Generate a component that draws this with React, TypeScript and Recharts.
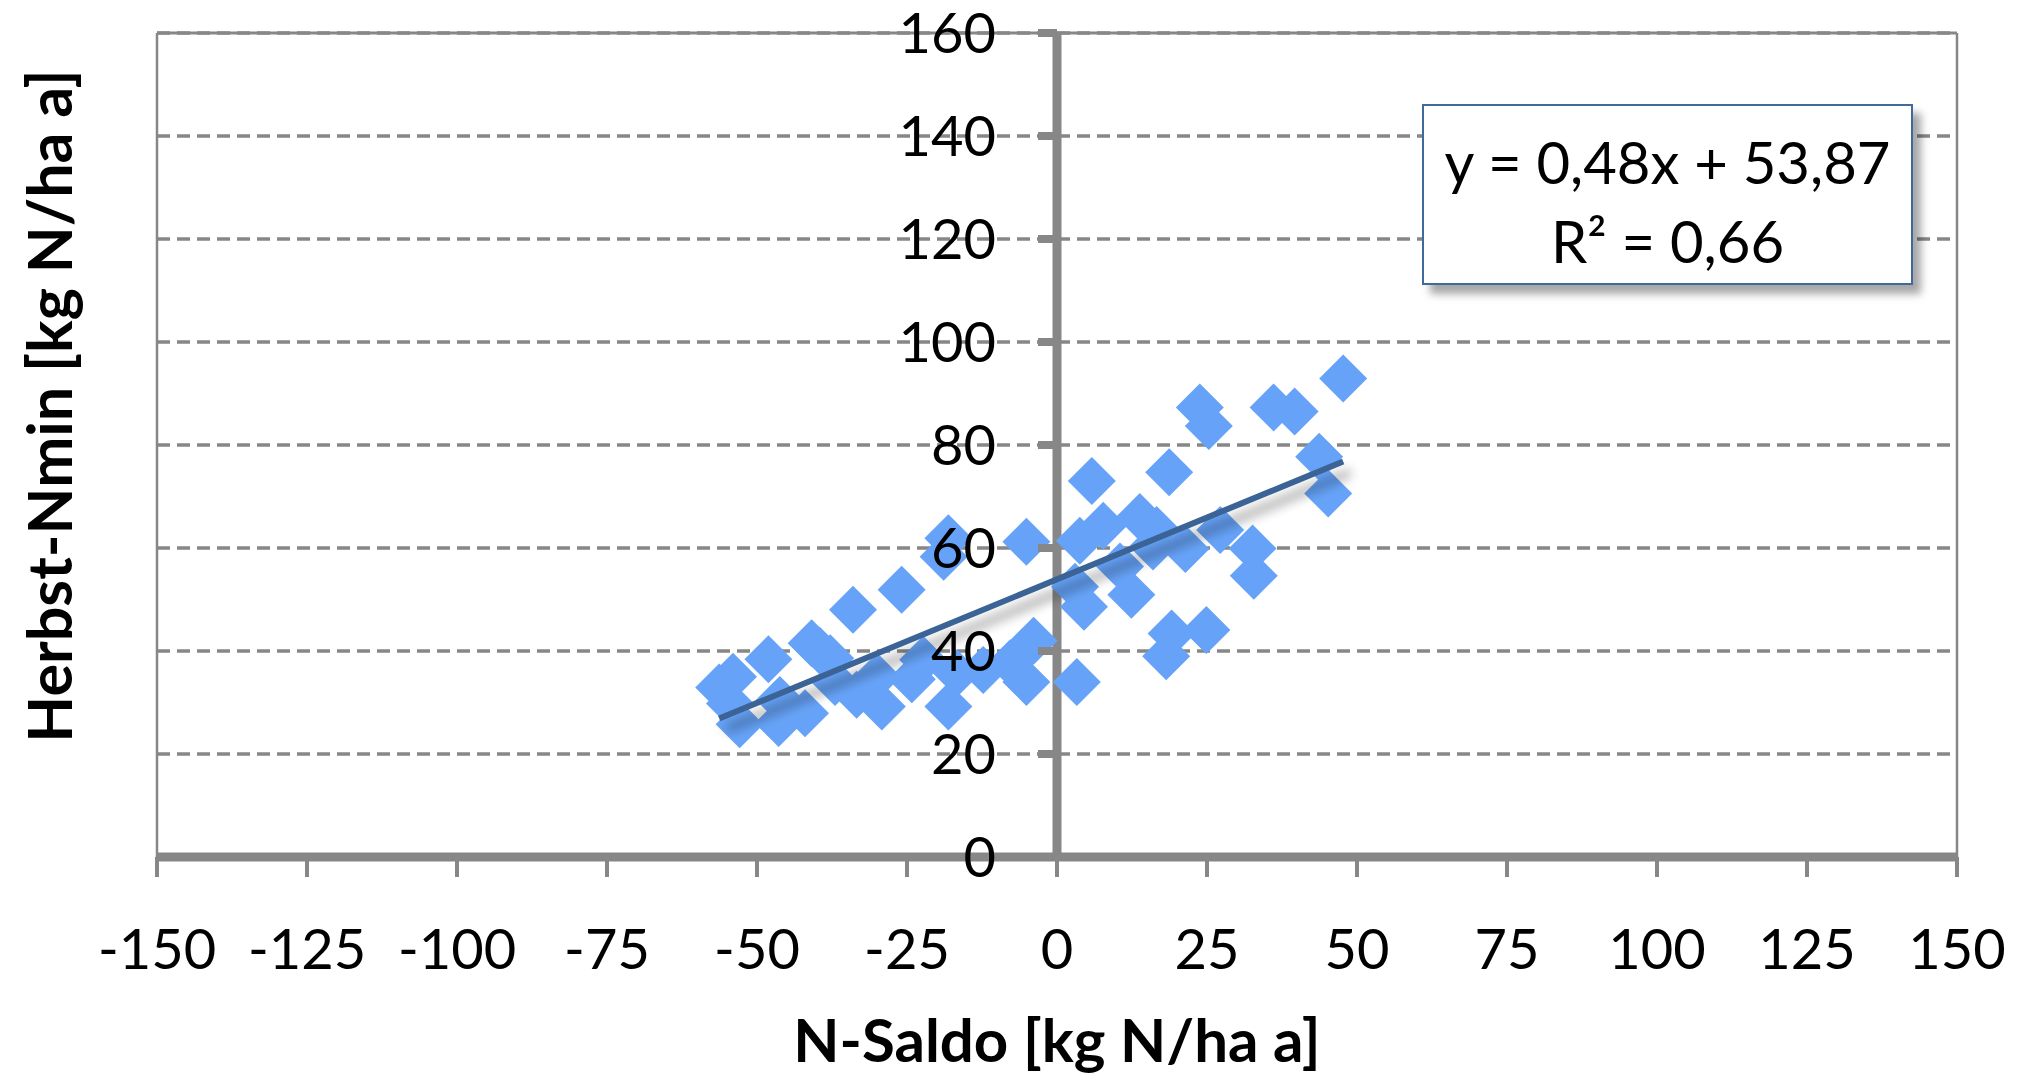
import {
  ScatterChart,
  Scatter,
  XAxis,
  YAxis,
  CartesianGrid,
  ReferenceLine
} from "recharts";

// N-Saldo (x) and Herbst-Nmin (y)
const nSaldo = [
  -56.3, -54.0, -54.5, -52.9, -48.1, -46.4, -46.2, -40.9, -39.5, -42.0,
  -37.8, -37.0, -34.0, -33.4, -30.0, -29.2, -25.9, -24.2, -22.3, -18.1,
  -18.9, -18.1, -16.7, -12.3, -7.8, -5.1, -3.9, -5.1,
  3.3, 3.8, 3.0, 4.5, 5.8, 7.7, 10.5, 12.4, 13.8, 16.6,
  16.0, 18.7, 18.2, 19.1, 21.4, 23.8, 25.3, 24.9, 27.2, 32.6,
  32.8, 36.1, 39.6, 43.7, 45.2, 47.7
];
const herbstNmin = [
  32.9, 35.0, 29.8, 25.8, 38.4, 26.0, 30.5, 41.5, 40.0, 27.9,
  38.6, 34.0, 48.0, 31.5, 35.0, 29.2, 51.9, 34.5, 38.3, 61.9,
  58.3, 29.2, 35.7, 36.3, 37.6, 61.2, 42.0, 34.0,
  34.0, 61.4, 52.5, 48.6, 73.0, 64.3, 56.4, 50.9, 66.0, 63.5,
  60.3, 74.7, 39.0, 43.4, 59.8, 87.3, 83.7, 44.1, 63.5, 59.9,
  54.6, 87.3, 86.5, 77.7, 70.6, 92.9
];

// linear trend y = 0,48x + 53,87 over the data range
const trendX = [-56.3, 47.7];
const trendY = [26.9, 76.8];

const xTicks = [-150, -125, -100, -75, -50, -25, 0, 25, 50, 75, 100, 125, 150];
const yTicks = [0, 20, 40, 60, 80, 100, 120, 140, 160];

const points = nSaldo.map((x, i) => ({ x, y: herbstNmin[i] }));
const trend = trendX.map((x, i) => ({ x, y: trendY[i] }));

const W = 2021;
const H = 1074;
const PLOT_LEFT = 157;
const PLOT_RIGHT = 1957;
const ZERO_X = PLOT_LEFT + (PLOT_RIGHT - PLOT_LEFT) * (0 - xTicks[0]) / (xTicks[xTicks.length - 1] - xTicks[0]);

const GRAY = "#878787";
const FONT = "Lato";

const Diamond = ({ cx, cy }: any) => {
  const r = 24;
  return (
    <path
      d={`M${cx},${cy - r}L${cx + r},${cy}L${cx},${cy + r}L${cx - r},${cy}Z`}
      fill="#66A3F8"
    />
  );
};

const YTick = ({ y, payload }: any) => (
  <g>
    <line x1={ZERO_X - 19} x2={ZERO_X} y1={y} y2={y} stroke={GRAY} strokeWidth={8} />
    <text
      x={ZERO_X - 61}
      y={y}
      dy="0.36em"
      textAnchor="end"
      fontSize={56}
      fontFamily={FONT}
      fill="#000"
    >
      {payload.value}
    </text>
  </g>
);

export default function App() {
  return (
    <div style={{ position: "absolute", left: 0, top: 0, width: W, height: H, background: "#fff" }}>
      <svg width={0} height={0} style={{ position: "absolute" }}>
        <defs>
          <filter id="trendShadow" x="-10%" y="-60%" width="130%" height="280%">
            <feGaussianBlur in="SourceAlpha" stdDeviation="6" />
            <feOffset dx="7" dy="11" result="blur" />
            <feComponentTransfer>
              <feFuncA type="linear" slope="0.45" />
            </feComponentTransfer>
            <feMerge>
              <feMergeNode />
              <feMergeNode in="SourceGraphic" />
            </feMerge>
          </filter>
        </defs>
      </svg>

      <ScatterChart
        width={W}
        height={H}
        margin={{ top: 33, right: W - PLOT_RIGHT, bottom: 0, left: 0 }}
      >
        <CartesianGrid
          vertical={false}
          stroke={GRAY}
          strokeWidth={3.5}
          strokeDasharray="13 7"
        />

        <XAxis
          type="number"
          dataKey="x"
          domain={[-150, 150]}
          ticks={xTicks}
          interval={0}
          height={217}
          tickSize={20}
          tickMargin={52}
          axisLine={{ stroke: GRAY, strokeWidth: 9 }}
          tickLine={{ stroke: GRAY, strokeWidth: 4 }}
          tick={{ fontSize: 56, fill: "#000", fontFamily: FONT }}
          label={{
            value: "N-Saldo [kg N/ha a]",
            position: "insideBottom",
            offset: 12,
            style: { fontSize: 60, fontWeight: 700, fill: "#000", fontFamily: FONT }
          }}
        />

        <YAxis
          type="number"
          dataKey="y"
          domain={[0, 160]}
          ticks={yTicks}
          interval={0}
          width={PLOT_LEFT}
          axisLine={false}
          tickLine={false}
          tick={<YTick />}
          label={{
            content: () => (
              <text
                x={50}
                y={406}
                transform="rotate(-90 50 406)"
                textAnchor="middle"
                dy="0.36em"
                fontSize={61}
                fontWeight={700}
                fontFamily={FONT}
                fill="#000"
              >
                Herbst-Nmin [kg N/ha a]
              </text>
            )
          }}
        />

        <ReferenceLine y={160} stroke={GRAY} strokeWidth={3} />
        <ReferenceLine x={-150} stroke={GRAY} strokeWidth={2.5} />
        <ReferenceLine x={150} stroke={GRAY} strokeWidth={2.5} />
        <ReferenceLine x={0} stroke={GRAY} strokeWidth={9} />

        <Scatter
          data={points}
          shape={<Diamond />}
          isAnimationActive={false}
        />

        <Scatter
          data={trend}
          line={{ stroke: "#3A6496", strokeWidth: 6, filter: "url(#trendShadow)" }}
          shape={() => null}
          isAnimationActive={false}
        />
      </ScatterChart>

      <div
        style={{
          position: "absolute",
          left: 1422,
          top: 104,
          width: 491,
          height: 181,
          boxSizing: "border-box",
          border: "2px solid #3F6A9B",
          background: "#fff",
          boxShadow: "8px 9px 8px rgba(0,0,0,0.35)",
          paddingTop: 16,
          textAlign: "center",
          fontFamily: FONT,
          fontSize: 58,
          lineHeight: "79px",
          color: "#000"
        }}
      >
        <div>y = 0,48x + 53,87</div>
        <div>R² = 0,66</div>
      </div>
    </div>
  );
}
